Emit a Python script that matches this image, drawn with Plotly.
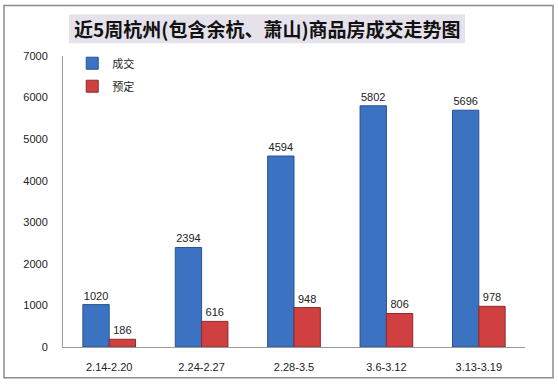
import plotly.graph_objects as go

categories = ["2.14-2.20", "2.24-2.27", "2.28-3.5", "3.6-3.12", "3.13-3.19"]
deal = [1020, 2394, 4594, 5802, 5696]
reserve = [186, 616, 948, 806, 978]
y_ticks = [0, 1000, 2000, 3000, 4000, 5000, 6000, 7000]
title_text = "近5周杭州(包含余杭、萧山)商品房成交走势图"

font_family = "Liberation Sans, DejaVu Sans, Noto Sans CJK SC"

fig = go.Figure()
fig.add_trace(go.Bar(
    name="成交", x=categories, y=deal, legendgroup="a",
    marker=dict(color="#3B72C2", line=dict(color="#2A5290", width=1)),
    text=deal, textposition="outside", cliponaxis=False,
    textfont=dict(size=11, color="#222", family=font_family),
))
fig.add_trace(go.Bar(
    name="预定", x=categories, y=reserve, legendgroup="b",
    marker=dict(color="#D04040", line=dict(color="#8F2A2A", width=1)),
    text=reserve, textposition="outside", cliponaxis=False,
    textfont=dict(size=11, color="#222", family=font_family),
))

fig.update_layout(
    width=558, height=385,
    margin=dict(l=63, r=33, t=56, b=35),
    paper_bgcolor="white", plot_bgcolor="white",
    barmode="group", bargap=0.43, bargroupgap=0,
    font=dict(family=font_family, size=11, color="#222"),
    showlegend=True,
    legend=dict(x=0.02, y=1.025, xanchor="left", yanchor="top",
                bgcolor="rgba(0,0,0,0)", font=dict(size=11, family="Noto Sans CJK SC"),
                itemwidth=30, tracegroupgap=4),
    xaxis=dict(showline=True, linecolor="#9A9A9A", linewidth=1, ticks="",
               tickfont=dict(size=11), showgrid=False, ticklabelstandoff=10),
    yaxis=dict(range=[0, 7000], tickvals=y_ticks, showline=True, linecolor="#9A9A9A",
               linewidth=1, ticks="", showgrid=False, zeroline=False,
               tickfont=dict(size=11), ticklabelstandoff=12),
    shapes=[
        dict(type="rect", xref="paper", yref="paper",
             x0=-0.1277, x1=1.0606, y0=-0.1054, y1=1.1735,
             line=dict(color="#8C8C8C", width=1.5), fillcolor="rgba(0,0,0,0)", layer="below"),
        dict(type="rect", xref="paper", yref="paper",
             x0=0.013, x1=0.870, y0=1.044, y1=1.143,
             line=dict(width=0), fillcolor="#E6E2EC", layer="below"),
    ],
    annotations=[
        dict(text="<b>" + title_text + "</b>", xref="paper", yref="paper",
             x=0.4416, y=1.0935, xanchor="center", yanchor="middle", showarrow=False,
             font=dict(size=19, family="Noto Sans CJK SC", color="#111")),
    ],
)

fig.write_html("out.html", config={"displayModeBar": False},
               post_script="document.body.style.margin='0';")
